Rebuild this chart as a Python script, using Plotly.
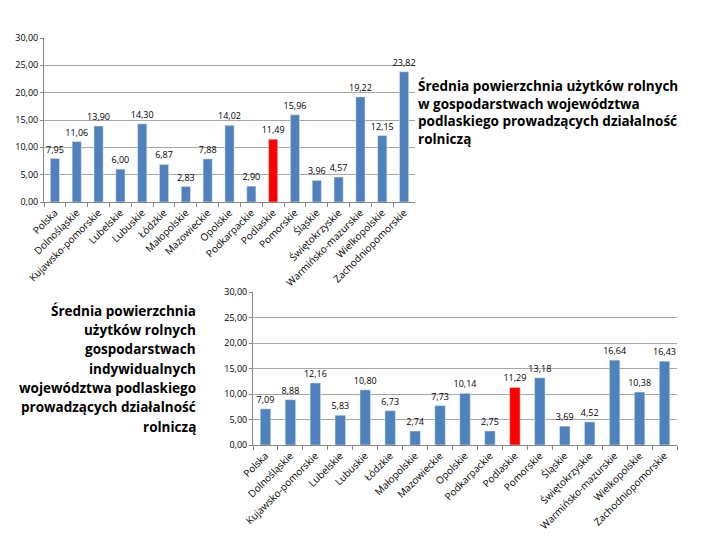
import plotly.graph_objects as go

categories = ["Polska", "Dolnośląskie", "Kujawsko-pomorskie", "Lubelskie", "Lubuskie",
              "Łódzkie", "Małopolskie", "Mazowieckie", "Opolskie", "Podkarpackie",
              "Podlaskie", "Pomorskie", "Śląskie", "Świętokrzyskie",
              "Warmińsko-mazurskie", "Wielkopolskie", "Zachodniopomorskie"]
values_all = [7.95, 11.06, 13.90, 6.00, 14.30, 6.87, 2.83, 7.88, 14.02, 2.90,
              11.49, 15.96, 3.96, 4.57, 19.22, 12.15, 23.82]
values_indiv = [7.09, 8.88, 12.16, 5.83, 10.80, 6.73, 2.74, 7.73, 10.14, 2.75,
                11.29, 13.18, 3.69, 4.52, 16.64, 10.38, 16.43]
highlight = "Podlaskie"
tick_vals = [0, 5, 10, 15, 20, 25, 30]

title_top = ("Średnia powierzchnia użytków rolnych<br>w gospodarstwach województwa<br>"
             "podlaskiego prowadzących działalność<br>rolniczą")
title_bottom_lines = ["Średnia powierzchnia", "użytków rolnych", "gospodarstwach",
                      "indywidualnych", "województwa podlaskiego",
                      "prowadzących działalność", "rolniczą"]

BLUE = "#4F81BD"
RED = "#FF0000"
colors = [RED if c == highlight else BLUE for c in categories]
FONT = "Open Sans"

W, H, OFF = 720, 540, 8


def px(x):
    return (x - OFF) / W


def py(y):
    return 1 - (y - OFF) / H


fig = go.Figure()
for vals, xa, ya in [(values_all, "x", "y"), (values_indiv, "x2", "y2")]:
    fig.add_trace(go.Bar(x=categories, y=vals, marker_color=colors,
                         texttemplate="%{y:.2f}", textposition="outside",
                         constraintext="none",
                         textfont=dict(size=9, color="#000000", family=FONT),
                         cliponaxis=False, xaxis=xa, yaxis=ya))

yax = dict(range=[0, 30], tickvals=tick_vals, tickformat=".2f",
           showgrid=True, gridcolor="#A6A6A6", gridwidth=1,
           showline=True, linecolor="#868686", ticks="outside", ticklen=3,
           tickcolor="#868686", tickfont=dict(size=9, family=FONT, color="#000000"),
           zeroline=False, automargin=False)
xax = dict(tickangle=-45, tickfont=dict(size=10, family=FONT, color="#000000"),
           showline=True, linecolor="#868686", ticks="outside", ticklen=4,
           tickcolor="#868686", tickson="boundaries", showgrid=False,
           automargin=False)

annotations = [
    dict(text=title_top, x=px(416), y=py(75), xref="paper", yref="paper",
         xanchor="left", yanchor="top", align="left", showarrow=False,
         font=dict(size=13.5, family=FONT, color="#000000", weight="bold")),
]
for i, line in enumerate(title_bottom_lines):
    annotations.append(dict(text=line, x=px(198), y=py(310.7 + i * 19.3),
                            xref="paper", yref="paper", xanchor="right",
                            yanchor="middle", align="right", showarrow=False,
                            font=dict(size=13.5, family=FONT, color="#000000",
                                      weight="bold")))

fig.update_layout(
    width=W, height=H,
    margin=dict(l=0, r=0, t=0, b=0),
    paper_bgcolor="white", plot_bgcolor="white",
    separators=", ",
    showlegend=False,
    bargap=0.58,
    xaxis=dict(domain=[px(44), px(415)], anchor="y", **xax),
    yaxis=dict(domain=[py(202), py(38)], anchor="x", **yax),
    xaxis2=dict(domain=[px(253), px(677)], anchor="y2", **xax),
    yaxis2=dict(domain=[py(445), py(292)], anchor="x2", **yax),
    annotations=annotations,
)

fig.write_html("out.html")
